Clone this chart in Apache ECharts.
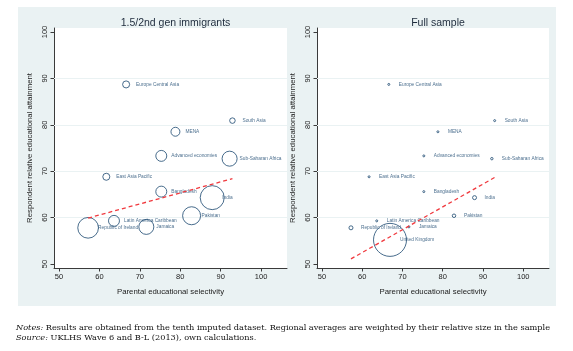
<!DOCTYPE html>
<html>
<head>
<meta charset="utf-8">
<script src="https://cdn.jsdelivr.net/npm/echarts@6/dist/echarts.min.js"></script>
<style>html,body{margin:0;padding:0;background:#fff}#c{width:573px;height:351px}</style>
</head>
<body>
<div id="c"></div>
<script>
// ---- data ----
const regions = ['Europe Central Asia','South Asia','MENA','Advanced economies','Sub-Saharan Africa','East Asia Pacific','Bangladesh','India','Pakistan','Latin America Caribbean','Jamaica','Republic of Ireland'];
const parentalSelectivity = [66.6, 92.9, 78.8, 75.3, 92.2, 61.7, 75.3, 87.9, 82.8, 63.6, 71.6, 57.2];
const respondentAttainment = [88.7, 80.9, 78.5, 73.3, 72.7, 68.8, 65.6, 64.3, 60.4, 59.3, 58.0, 57.8];
const immigrantWeights = [2.1, 1.3, 3.4, 5.1, 9.6, 2.1, 5.1, 24.5, 13.8, 5.1, 9.6, 18.2];

const fullRegions = regions.concat(['United Kingdom']);
const fullSelectivity = parentalSelectivity.concat([66.9]);
const fullAttainment = respondentAttainment.concat([55.2]);
const fullWeights = [0.34, 0.34, 0.34, 0.34, 0.5, 0.34, 0.34, 1.37, 1.05, 0.34, 0.34, 1.37, 93.0];

const immFitX = [57.2, 92.9];
const immFitY = [59.9, 68.4];
const fullFitX = [57.2, 93.2];
const fullFitY = [51.1, 68.8];

const xTicks = [50, 60, 70, 80, 90, 100];
const yTicks = [50, 60, 70, 80, 90, 100];
const gridValues = [60, 70, 80, 90];

const panelTitles = ['1.5/2nd gen immigrants', 'Full sample'];
const xTitle = 'Parental educational selectivity';
const yTitle = 'Respondent relative educational attainment';
const notesText = 'Results are obtained from the tenth imputed dataset. Regional averages are weighted by their relative size in the sample';
const sourceText = 'UKLHS Wave 6 and B-L (2013), own calculations.';

// ---- styling ----
const NAVY = '#1a476f';
const BG = '#eaf2f3';
const AX = '#3a3a3a';
const SANS = 'Liberation Sans, Arial, sans-serif';
const SERIF = 'DejaVu Serif, Liberation Serif, serif';

function pts(xs, ys, ws, names) {
  return xs.map((x, i) => [x, ys[i], ws[i], names[i]]);
}
function sizeFn(maxD, maxW) {
  return v => Math.max(1.8, maxD * Math.sqrt(v[2] / maxW));
}

const grids = [
  {left: 54, top: 28, width: 233, height: 240},
  {left: 317, top: 28, width: 232, height: 240}
];

function xAxis(i) {
  return {
    type: 'value', gridIndex: i, min: 48.76, max: 106.4,
    name: xTitle, nameLocation: 'middle', nameGap: 20,
    nameTextStyle: {fontFamily: SANS, fontSize: 7.8, color: '#222'},
    axisLine: {show: true, lineStyle: {color: AX, width: 1}},
    axisTick: {show: true, length: 3.5, lineStyle: {color: AX}, customValues: xTicks},
    axisLabel: {customValues: xTicks, fontFamily: SANS, fontSize: 7.5, color: '#222', margin: 5},
    splitLine: {show: false}
  };
}
function yAxis(i) {
  return {
    type: 'value', gridIndex: i, min: 49.14, max: 100.86,
    name: yTitle, nameLocation: 'middle', nameGap: 20, nameRotate: 90,
    nameTextStyle: {fontFamily: SANS, fontSize: 7.8, color: '#222'},
    axisLine: {show: true, lineStyle: {color: AX, width: 1}},
    axisTick: {show: true, length: 3.5, lineStyle: {color: AX}, customValues: yTicks},
    axisLabel: {customValues: yTicks, rotate: 90, fontFamily: SANS, fontSize: 7.5, color: '#222', margin: 5},
    splitLine: {show: false}
  };
}

function scatter(i, data, maxD, maxW) {
  return {
    type: 'scatter', xAxisIndex: i, yAxisIndex: i, data: data,
    symbol: 'circle', symbolSize: sizeFn(maxD, maxW),
    itemStyle: {color: 'rgba(255,255,255,0)', borderColor: NAVY, borderWidth: 1},
    label: {
      show: true, position: 'inside', align: 'left', verticalAlign: 'middle',
      offset: [10, 0], formatter: p => p.data[3],
      fontFamily: SANS, fontSize: 4.8, color: NAVY
    },
    emphasis: {disabled: true}, silent: true, z: 3,
    markLine: {
      silent: true, symbol: 'none', label: {show: false},
      lineStyle: {color: BG, type: 'solid', width: 1},
      data: gridValues.map(v => ({yAxis: v})), z: 1, animation: false
    }
  };
}
function fit(i, xs, ys) {
  return {
    type: 'line', xAxisIndex: i, yAxisIndex: i,
    data: xs.map((x, k) => [x, ys[k]]), symbol: 'none', silent: true,
    lineStyle: {color: '#f0393e', width: 1.3, type: [4, 3]}, z: 4
  };
}

const chart = echarts.init(document.getElementById('c'), null, {renderer: 'canvas'});
chart.setOption({
  animation: false,
  backgroundColor: '#fff',
  graphic: [
    {type: 'rect', z: -100, silent: true, shape: {x: 18, y: 7, width: 538, height: 299}, style: {fill: BG}},
    {type: 'rect', z: -99, silent: true, shape: {x: 54, y: 28, width: 233, height: 240}, style: {fill: '#fff'}},
    {type: 'rect', z: -99, silent: true, shape: {x: 317, y: 28, width: 232, height: 240}, style: {fill: '#fff'}},
    {type: 'text', z: 10, silent: true, left: 16, top: 324, style: {
      text: '{i|Notes:} ' + notesText, font: '8.2px ' + SERIF, fill: '#111',
      rich: {i: {fontStyle: 'italic', fontFamily: SERIF, fontSize: 8.2}}
    }},
    {type: 'text', z: 10, silent: true, left: 16, top: 333.5, style: {
      text: '{i|Source:} ' + sourceText, font: '8.2px ' + SERIF, fill: '#111',
      rich: {i: {fontStyle: 'italic', fontFamily: SERIF, fontSize: 8.2}}
    }}
  ],
  title: [
    {text: panelTitles[0], left: 170.5, top: 13, textAlign: 'center', textStyle: {fontFamily: SANS, fontSize: 10.5, fontWeight: 'normal', color: '#1e2b3c'}},
    {text: panelTitles[1], left: 433, top: 13, textAlign: 'center', textStyle: {fontFamily: SANS, fontSize: 10.5, fontWeight: 'normal', color: '#1e2b3c'}}
  ],
  grid: grids,
  xAxis: [xAxis(0), xAxis(1)],
  yAxis: [yAxis(0), yAxis(1)],
  series: [
    scatter(0, pts(parentalSelectivity, respondentAttainment, immigrantWeights, regions), 24, Math.max(...immigrantWeights)),
    fit(0, immFitX, immFitY),
    scatter(1, pts(fullSelectivity, fullAttainment, fullWeights, fullRegions), 33, Math.max(...fullWeights)),
    fit(1, fullFitX, fullFitY)
  ]
});
</script>
</body>
</html>
